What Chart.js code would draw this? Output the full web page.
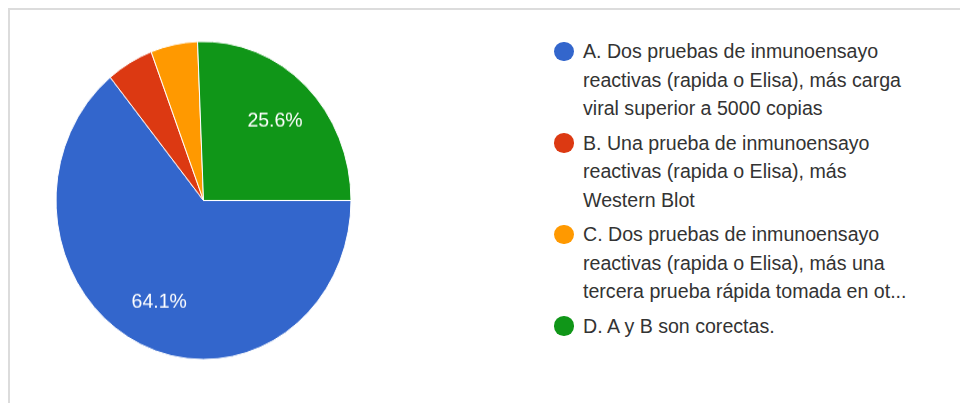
<!DOCTYPE html>
<html>
<head>
<meta charset="utf-8">
<script src="https://cdn.jsdelivr.net/npm/chart.js@4/dist/chart.umd.min.js"></script>
<style>
    body { margin: 0; background: #fff; font-family: "Liberation Sans", Arial, sans-serif; }
    #ramme { position: absolute; left: 8px; top: 8px; width: 960px; height: 400px; border-top: 2px solid #dcdcdc; border-left: 2px solid #dcdcdc; }
    #kake-boks { position: absolute; left: 50px; top: 35px; width: 307px; height: 307px; transform: scaleY(1.078); transform-origin: 0 0; }
    #forklaring { position: absolute; left: 554px; top: 37px; margin: 0; padding: 0; list-style: none; }
    #forklaring li { position: relative; padding-left: 29px; margin-bottom: 6px; font-size: 19.6px; line-height: 28.5px; color: #333; white-space: nowrap; }
    #forklaring .prikk { position: absolute; left: 0; top: 4.5px; width: 19.5px; height: 19.5px; border-radius: 50%; }
</style>
</head>
<body>
<div id="ramme"></div>
<div id="kake-boks"><canvas id="kake"></canvas></div>
<ul id="forklaring"></ul>
<script>
// svaralternativer, linjene slik de er brutt i forklaringen
let kategorier = [
    ['A. Dos pruebas de inmunoensayo', 'reactivas (rapida o Elisa), más carga', 'viral superior a 5000 copias'],
    ['B. Una prueba de inmunoensayo', 'reactivas (rapida o Elisa), más', 'Western Blot'],
    ['C. Dos pruebas de inmunoensayo', 'reactivas (rapida o Elisa), más una', 'tercera prueba rápida tomada en ot...'],
    ['D. A y B son corectas.']
]
let svar = [25, 2, 2, 10]
let farger = ['#3366cc', '#dc3912', '#ff9900', '#109618']

let total = svar.reduce(function (a, b) { return a + b }, 0)
let strekk = 1.078

// prosenttekst inne i de store bitene
var prosentTekst = {
    id: 'prosentTekst',
    afterDatasetsDraw: function (chart) {
        var ctx = chart.ctx
        var meta = chart.getDatasetMeta(0)
        ctx.save()
        ctx.font = '19.5px "Liberation Sans", Arial, sans-serif'
        ctx.fillStyle = '#fff'
        ctx.textAlign = 'center'
        ctx.textBaseline = 'middle'
        for (let i = 0; i < meta.data.length; i++) {
            let andel = svar[i] / total * 100
            if (andel < 10) continue
            let bit = meta.data[i]
            let midt = (bit.startAngle + bit.endAngle) / 2
            let r = bit.outerRadius * 0.7
            let x = bit.x + Math.cos(midt) * r
            let y = bit.y + Math.sin(midt) * r
            ctx.save()
            ctx.translate(x, y)
            ctx.scale(1, 1 / strekk)
            ctx.fillText(andel.toFixed(1) + '%', 0, 1)
            ctx.restore()
        }
        ctx.restore()
    }
}

var ctx = document.getElementById('kake').getContext('2d')
var config = {
    type: 'pie',
    data: {
        labels: kategorier,
        datasets: [{
            data: svar,
            backgroundColor: farger,
            borderColor: '#fff',
            borderWidth: 1
        }]
    },
    options: {
        responsive: true,
        maintainAspectRatio: false,
        animation: false,
        events: [],
        rotation: 90,
        radius: 147.5,
        layout: { padding: 0 },
        plugins: {
            legend: { display: false },
            tooltip: { enabled: false }
        }
    },
    plugins: [prosentTekst]
}
let kake = new Chart(ctx, config)

function lagForklaring() {
    let liste = document.getElementById('forklaring')
    for (let i = 0; i < kategorier.length; i++) {
        let li = document.createElement('li')
        let prikk = document.createElement('span')
        prikk.className = 'prikk'
        prikk.style.background = farger[i]
        li.appendChild(prikk)
        li.appendChild(document.createTextNode(kategorier[i][0]))
        for (let j = 1; j < kategorier[i].length; j++) {
            li.appendChild(document.createElement('br'))
            li.appendChild(document.createTextNode(kategorier[i][j]))
        }
        liste.appendChild(li)
    }
}
lagForklaring()
</script>
</body>
</html>
